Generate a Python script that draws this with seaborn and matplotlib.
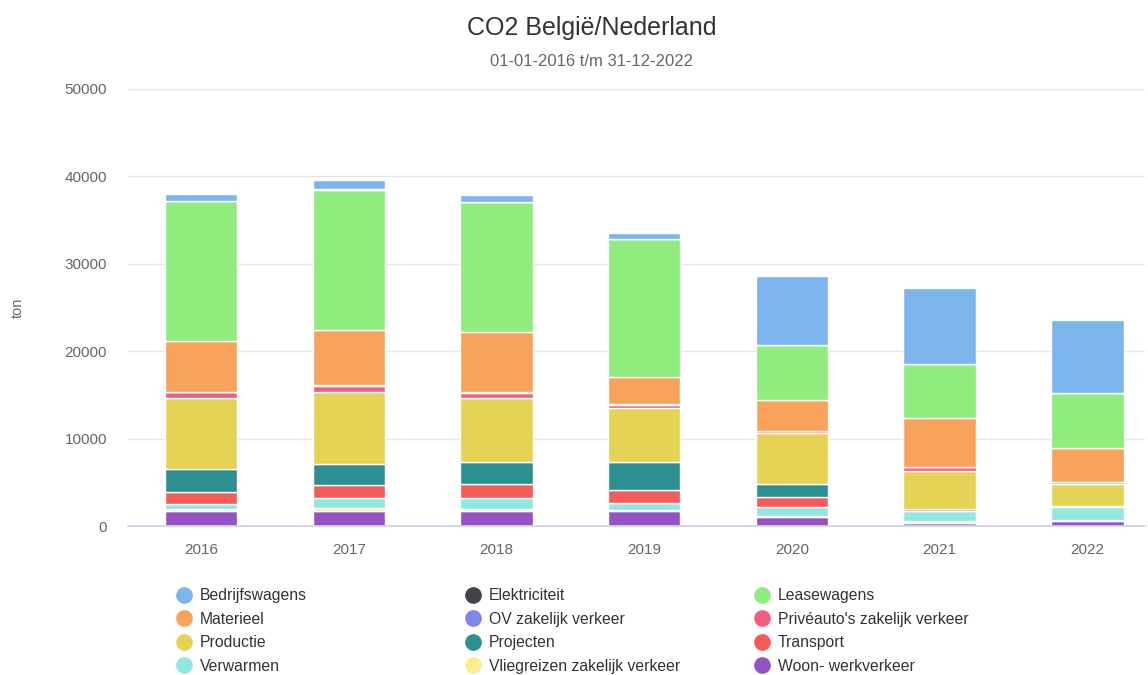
import numpy as np
import pandas as pd
import seaborn as sns
import matplotlib.pyplot as plt
from matplotlib.lines import Line2D

# data (ton CO2 per jaar)
years = ["2016", "2017", "2018", "2019", "2020", "2021", "2022"]
bedrijfswagens = [800, 1000, 800, 700, 7900, 8750, 8400]
elektriciteit = [0, 200, 0, 0, 0, 0, 0]
leasewagens = [15950, 15950, 14970, 15850, 6300, 6120, 6230]
materieel = [5850, 6380, 6830, 3090, 3610, 5620, 3890]
ov_zakelijk = [50, 50, 50, 50, 0, 0, 0]
priveauto = [600, 690, 610, 420, 200, 490, 300]
productie = [8170, 8200, 7330, 6110, 5840, 4380, 2490]
projecten = [2600, 2450, 2480, 3250, 1490, 0, 0]
transport = [1380, 1490, 1650, 1450, 1080, 150, 100]
verwarmen = [650, 1150, 1300, 800, 1060, 1200, 1500]
vliegreizen = [200, 350, 200, 150, 100, 150, 150]
woon_werk = [1700, 1700, 1700, 1700, 1050, 400, 550]

series = {
    "Bedrijfswagens": bedrijfswagens,
    "Elektriciteit": elektriciteit,
    "Leasewagens": leasewagens,
    "Materieel": materieel,
    "OV zakelijk verkeer": ov_zakelijk,
    "Privéauto's zakelijk verkeer": priveauto,
    "Productie": productie,
    "Projecten": projecten,
    "Transport": transport,
    "Verwarmen": verwarmen,
    "Vliegreizen zakelijk verkeer": vliegreizen,
    "Woon- werkverkeer": woon_werk,
}
colors = ["#7cb5ec", "#434348", "#90ed7d", "#f7a35c", "#8085e9", "#f15c80",
          "#e4d354", "#2b908f", "#f45b5b", "#91e8e1", "#f7f08a", "#9552c4"]

sns.set_theme(style="white")
plt.rcParams['font.family'] = ['Liberation Sans', 'DejaVu Sans']

fig = plt.figure(figsize=(11.48, 6.75), dpi=100)
ax = fig.add_axes([128 / 1148, 1 - 526 / 675, (1145 - 128) / 1148, (526 - 89) / 675])

# stack: last series at the bottom, first on top
bottom = np.zeros(len(years))
names = list(series.keys())
for name, col in zip(reversed(names), reversed(colors)):
    vals = np.array(series[name], dtype=float)
    d = pd.DataFrame({"jaar": years, "ton": vals})
    sns.barplot(data=d, x="jaar", y="ton", color=col, saturation=1, width=0.49,
                bottom=bottom, errorbar=None, edgecolor="white", linewidth=1, ax=ax)
    bottom = bottom + vals

ax.set_xlim(-0.494, 6.39)
ax.set_ylim(0, 50000)
ax.set_yticks(range(0, 50001, 10000))
ax.set_yticklabels([str(v) for v in range(0, 50001, 10000)])
ax.yaxis.grid(True, color="#e6e6e6", linewidth=1)
ax.set_axisbelow(True)
for s in ["top", "right", "left"]:
    ax.spines[s].set_visible(False)
ax.spines["bottom"].set_color("#ccd6eb")
ax.tick_params(axis="both", length=0, labelsize=11, colors="#666666")
ax.tick_params(axis="y", pad=15)
ax.tick_params(axis="x", pad=12)
ax.set_xlabel("")
ax.set_ylabel("")

fig.text(18 / 1148, 1 - 308 / 675, "ton", rotation=90, ha="center", va="center",
         fontsize=10.5, color="#666666")
fig.text(592 / 1148, 1 - 28 / 675, "CO2 België/Nederland", ha="center", va="center",
         fontsize=18, color="#333333")
fig.text(592 / 1148, 1 - 61 / 675, "01-01-2016 t/m 31-12-2022", ha="center", va="center",
         fontsize=12, color="#666666")

# legend in 3 columns, filled row by row
handles = [Line2D([0], [0], marker="o", linestyle="", markersize=11,
                  markerfacecolor=c, markeredgecolor=c) for c in colors]
col_x = [175, 464, 753]
for k in range(3):
    idx = [k, k + 3, k + 6, k + 9]
    fig.legend([handles[i] for i in idx], [names[i] for i in idx],
               loc="upper left", bbox_to_anchor=(col_x[k] / 1148, 1 - 588 / 675),
               frameon=False, fontsize=11.3, handlelength=1.1, handletextpad=0.5,
               labelspacing=0.55, borderpad=0, borderaxespad=0, labelcolor="#333333")

fig.savefig("out.png", dpi=100)
